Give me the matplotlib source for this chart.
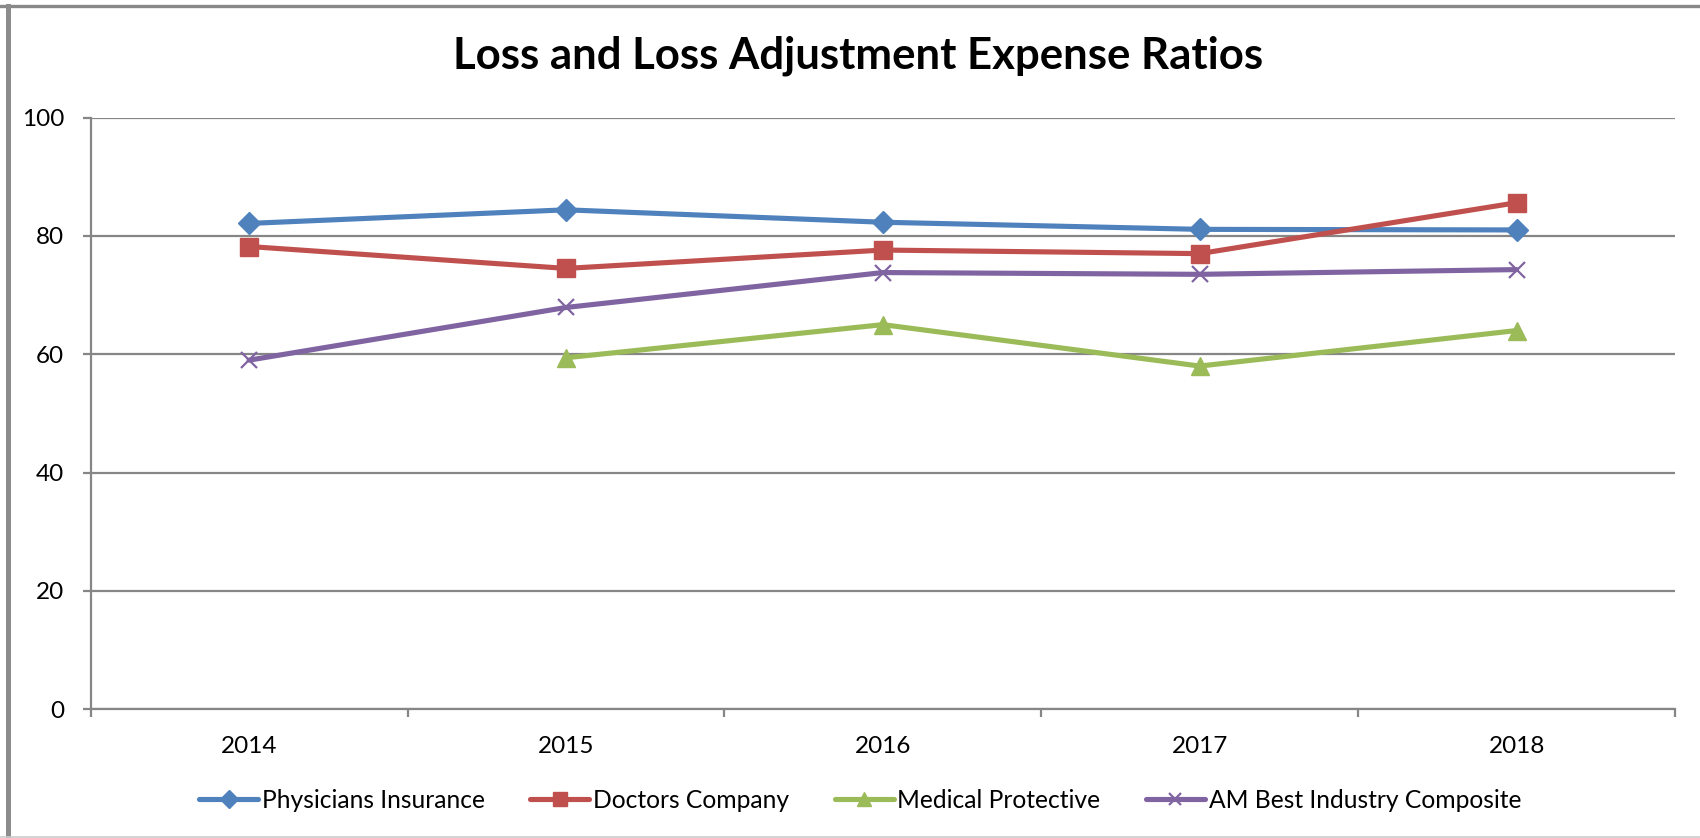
"""Loss and loss adjustment expense ratios, Excel-style line chart."""
import matplotlib

matplotlib.use("Agg")
import matplotlib.pyplot as plt
from matplotlib.lines import Line2D
from matplotlib.ticker import FixedLocator, NullFormatter

# Data
years = ["2014", "2015", "2016", "2017", "2018"]
physicians = [82.1, 84.4, 82.3, 81.1, 81.0]
doctors = [78.2, 74.5, 77.6, 77.0, 85.6]
medical = [None, 59.4, 65.0, 58.0, 64.0]
am_best = [59.0, 67.9, 73.8, 73.5, 74.3]

series_names = [
    "Physicians Insurance",
    "Doctors Company",
    "Medical Protective",
    "AM Best Industry Composite",
]

plt.rcParams["font.family"] = ["Lato", "DejaVu Sans"]

W, H = 1700, 838
fig = plt.figure(figsize=(W / 100, H / 100), dpi=100)
ax = fig.add_axes([90.7 / W, 1 - 709.3 / H, (1675 - 90.7) / W, (709.3 - 117.5) / H])

grid_col = "#868686"
x = list(range(len(years)))


def clean(vals):
    return [float("nan") if v is None else v for v in vals]


styles = [
    dict(color="#4F81BD", marker="D", markersize=11),
    dict(color="#C0504D", marker="s", markersize=13),
    dict(color="#9BBB59", marker="^", markersize=13),
    dict(color="#8064A2", marker="x", markersize=11.5, markeredgewidth=1.6),
]
for name, vals, st in zip(series_names, [physicians, doctors, medical, am_best], styles):
    ax.plot(x, clean(vals), label=name, linewidth=3.7, solid_capstyle="round", **st)

ax.set_xlim(-0.5, len(years) - 0.5)
ax.set_ylim(0, 100)
ax.set_yticks([0, 20, 40, 60, 80, 100])
ax.set_xticks(x)
ax.set_xticklabels(years)
ax.xaxis.set_minor_locator(FixedLocator([i - 0.5 for i in range(len(years) + 1)]))
ax.xaxis.set_minor_formatter(NullFormatter())

ax.yaxis.grid(True, color=grid_col, linewidth=1.6)
ax.set_axisbelow(True)
for side in ["top", "right"]:
    ax.spines[side].set_visible(False)
for side in ["left", "bottom"]:
    ax.spines[side].set_color(grid_col)
    ax.spines[side].set_linewidth(1.6)

ax.tick_params(axis="y", direction="out", length=6, width=1.6, color=grid_col,
               labelsize=17.5, pad=13)
ax.tick_params(axis="x", which="major", length=0, labelsize=17.5, pad=19)
ax.tick_params(axis="x", which="minor", direction="out", length=6, width=1.6,
               color=grid_col)

fig.text(0.505, 1 - 56 / H, "Loss and Loss Adjustment Expense Ratios",
         ha="center", va="center", fontsize=31.5, fontweight="bold")

ax.legend(loc="center", bbox_to_anchor=(0.506, 1 - 800 / H), bbox_transform=fig.transFigure,
          ncol=4, frameon=False, fontsize=17.7, handlelength=2.4, handletextpad=0.15,
          columnspacing=1.85, markerscale=0.8)

# chart-area border (thick gray top/left, light bottom)
fig.add_artist(Line2D([0, 1], [1 - 6.5 / H, 1 - 6.5 / H], transform=fig.transFigure,
                      color="#888888", linewidth=2.4))
fig.add_artist(Line2D([7.5 / W, 7.5 / W], [0, 1 - 6.5 / H], transform=fig.transFigure,
                      color="#8c8c8c", linewidth=3.6))
fig.add_artist(Line2D([0, 1], [1.5 / H, 1.5 / H], transform=fig.transFigure,
                      color="#cccccc", linewidth=1.2))

fig.savefig("out.png", dpi=100)
